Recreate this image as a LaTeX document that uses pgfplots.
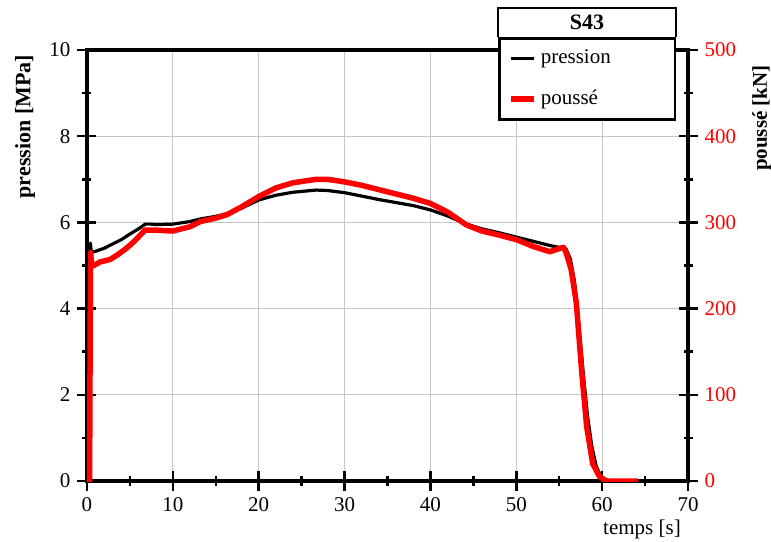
\documentclass[border=0pt]{standalone}
\usepackage{pgfplots}
\pgfplotsset{compat=1.18}
\usepackage{fontspec}
\setmainfont{Liberation Serif}
\usetikzlibrary{calc}

\pgfplotstableread{
t p
0 0
0.25 0.05
0.35 5.0
0.4 5.52
0.5 5.3
1 5.33
2 5.4
3 5.5
4 5.6
5 5.73
6 5.85
6.8 5.96
7.5 5.96
8 5.95
10 5.96
12 6.02
13.2 6.08
15 6.14
16.3 6.2
18 6.33
20 6.52
22 6.63
24 6.7
26.7 6.75
28 6.74
30 6.69
32 6.61
34 6.53
36 6.46
38 6.39
40 6.29
42 6.15
44.2 5.96
46 5.85
48 5.76
50 5.66
52 5.56
54 5.46
55 5.42
55.8 5.38
56.3 5.15
56.8 4.6
57.3 3.6
57.8 2.5
58.3 1.5
58.8 0.8
59.3 0.35
59.8 0.12
60.3 0.03
61 0
62.5 0.01
}\pression

\pgfplotstableread{
t f
0 0
0.3 0
0.38 200
0.42 265
0.55 250
0.8 250
1.5 254
2.7 257
3.5 262
4.6 270
5.5 278
6.75 291
8 291
10 290
12 295
13.2 301
15 305
16.3 309
18 318
20 330
22 340
24 346
26.7 350
28 350
30 347
32 343
34 338
36 333
38 328
40 322
42 312
44.2 297
46 290
48.1 285
50 280
52 272
53.9 266
55.1 270
55.5 271
55.8 265
56.4 245
57 206
57.6 129
58.2 63
58.9 20
59.7 5
60.5 0
64.2 0
}\pousse

\begin{document}
\fontsize{21}{25}\selectfont
\begin{tikzpicture}
\begin{axis}[name=ax1, scale only axis, width=601pt, height=431pt,
  xmin=0, xmax=70, ymin=0, ymax=10,
  xtick={0,10,...,70}, ytick={0,2,...,10},
  minor x tick num=1, minor y tick num=1,
  tick pos=left, tick align=center,
  major tick length=19pt, minor tick length=9pt,
  every tick/.style={black, line width=2.5pt},
  axis line style={line width=3.2pt},
  grid=major, major grid style={gray!45, line width=0.9pt},
  /pgf/number format/assume math mode=true,
  tick label style={font=\fontsize{21}{25}\selectfont},
  xlabel={temps [s]}, ylabel={\textbf{pression [MPa]}},
  every axis x label/.style={at={(axis description cs:1,-0.112)}, anchor=east},
  every axis y label/.style={at={(axis description cs:-0.103,1.005)}, rotate=90, anchor=east, font=\fontsize{22}{26}\selectfont},
]
\addplot[black, line width=3.2pt, line join=round] table[x=t, y=p] {\pression};
\end{axis}
\begin{axis}[scale only axis, width=601pt, height=431pt,
  xmin=0, xmax=70, ymin=0, ymax=500,
  axis x line=none, axis y line*=right,
  ytick={0,100,...,500}, minor y tick num=1,
  tick align=center,
  major tick length=19pt, minor tick length=9pt,
  every tick/.style={black, line width=2.5pt},
  axis line style={line width=3.2pt},
  /pgf/number format/assume math mode=true,
  yticklabel style={font=\fontsize{21}{25}\selectfont, red},
  ylabel={\textbf{poussé [kN]}},
  every axis y label/.style={at={(axis description cs:1.123,0.981)}, rotate=90, anchor=east, font=\fontsize{21}{25}\selectfont},
  legend image code/.code={\path (0pt,0pt) (36pt,0pt); \draw[#1] (9pt,0pt) -- (32pt,0pt);},
  legend style={name=leg, at={(0.684,1.03)}, anchor=north west, draw=black, line width=2.5pt,
    fill=white, inner xsep=0pt, inner ysep=0pt, row sep=0pt,
    nodes={inner sep=0pt, minimum height=40.5pt, text width=134pt, align=left, anchor=west}},
  legend cell align=left,
]
\addlegendimage{black, line width=3pt}
\addlegendentry{pression}
\addplot[red, line width=5.5pt, line join=round] table[x=t, y=f] {\pousse};
\addlegendentry{poussé}
\end{axis}
\draw[line width=2.5pt, fill=white] (leg.north west) -- ++(0,29pt) -| (leg.north east);
\node[font=\bfseries\fontsize{22}{26}\selectfont] at ($(leg.north west)!0.5!(leg.north east)+(0,14.5pt)$) {S43};
\pgfresetboundingbox
\path[use as bounding box] ($(ax1.south west)+(-87pt,-60pt)$) rectangle ($(ax1.north east)+(83pt,50pt)$);
\end{tikzpicture}
\end{document}
